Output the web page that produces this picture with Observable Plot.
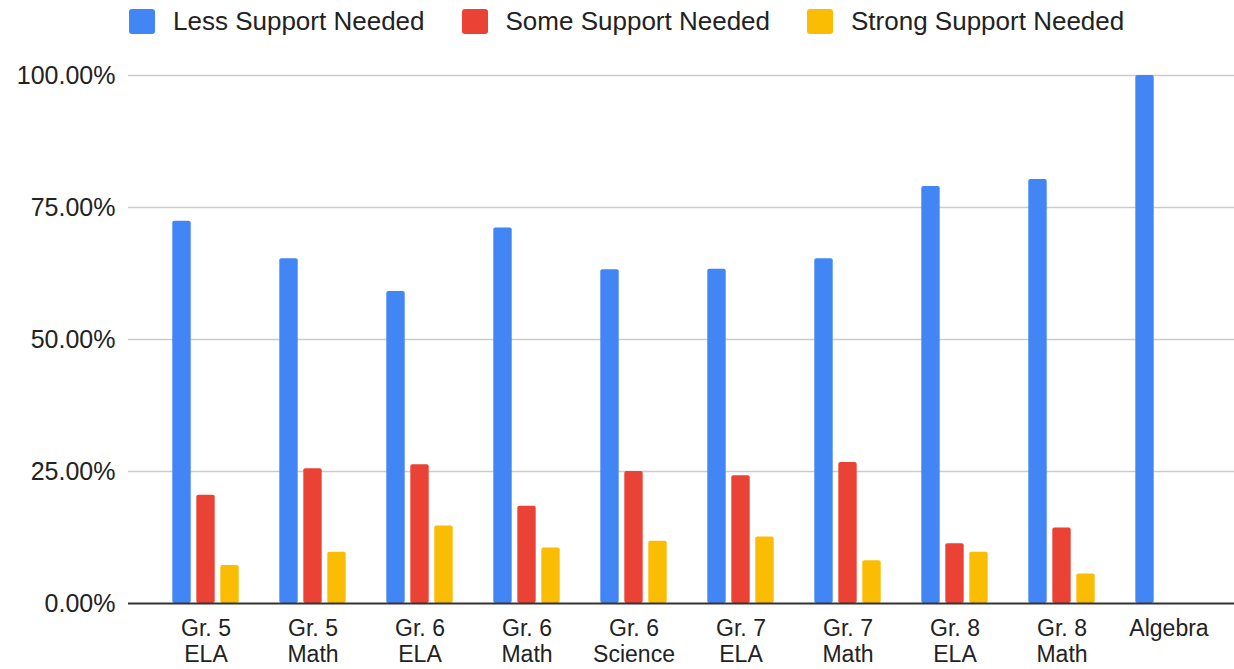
<!DOCTYPE html>
<html>
<head>
<meta charset="utf-8">
<script src="https://cdn.jsdelivr.net/npm/d3@7"></script>
<script src="https://cdn.jsdelivr.net/npm/@observablehq/plot@0.6"></script>
<style>
  html, body { margin: 0; padding: 0; background: #fff; }
  body { width: 1234px; height: 669px; overflow: hidden; font-family: "Liberation Sans", Arial, sans-serif; }
  #legend { display: flex; align-items: center; height: 42px; padding-left: 129px; box-sizing: border-box; }
  .item { display: flex; align-items: center; margin-right: 37px; }
  .sw { width: 26px; height: 25px; border-radius: 3px; margin-right: 18px; }
  .lab { font-size: 26px; color: #222; }
  svg { display: block; }
</style>
</head>
<body>
<div id="legend"></div>
<div id="chart"></div>
<script>
const categories = ["Gr. 5\nELA", "Gr. 5\nMath", "Gr. 6\nELA", "Gr. 6\nMath", "Gr. 6\nScience", "Gr. 7\nELA", "Gr. 7\nMath", "Gr. 8\nELA", "Gr. 8\nMath", "Algebra"];
const seriesNames = ["Less Support Needed", "Some Support Needed", "Strong Support Needed"];
const lessSupport = [72.4, 65.3, 59.1, 71.1, 63.2, 63.3, 65.3, 79.0, 80.3, 100];
const someSupport = [20.5, 25.5, 26.3, 18.4, 25.0, 24.2, 26.7, 11.3, 14.3, null];
const strongSupport = [7.2, 9.7, 14.7, 10.5, 11.8, 12.6, 8.1, 9.7, 5.6, null];
const yTicks = [0, 25, 50, 75, 100];
const colors = ["#4285F4", "#EA4335", "#FBBC04"];

const seriesValues = [lessSupport, someSupport, strongSupport];
const data = [];
seriesValues.forEach((vals, s) => {
  vals.forEach((v, i) => {
    if (v != null) data.push({category: categories[i], series: seriesNames[s], value: v});
  });
});

// legend
const legend = document.getElementById("legend");
seriesNames.forEach((name, i) => {
  const it = document.createElement("div");
  it.className = "item";
  it.innerHTML = `<div class="sw" style="background:${colors[i]}"></div><div class="lab">${name}</div>`;
  legend.appendChild(it);
});

const offsets = [-24, 0, 24];

const barMarks = seriesNames.map((name, s) =>
  Plot.barY(data.filter(d => d.series === name), {
    x: "category",
    y: "value",
    fill: colors[s],
    dx: offsets[s],
    rx: 2,
    insetLeft: 44.3,
    insetRight: 44.3
  })
);

const chart = Plot.plot({
  width: 1234,
  height: 627,
  marginLeft: 128,
  marginRight: 0,
  marginTop: 33,
  marginBottom: 66,
  style: {fontFamily: "'Liberation Sans', Arial, sans-serif", fontSize: "25px", color: "#222", background: "#fff"},
  x: {domain: categories, paddingInner: 0, paddingOuter: 0.1413, align: 0.68, label: null},
  y: {domain: [0, 100], label: null},
  marks: [
    Plot.ruleY(yTicks.filter(t => t > 0), {stroke: "#cccccc", strokeWidth: 1.5}),
    ...barMarks,
    Plot.ruleY([0], {stroke: "#333333", strokeWidth: 2}),
    Plot.axisY({ticks: yTicks, tickSize: 0, tickPadding: 13, tickFormat: d => d.toFixed(2) + "%", label: null, fontSize: 25}),
    Plot.axisX({tickSize: 0, tickPadding: 14, label: null, fontSize: 23, lineHeight: 1.12})
  ]
});
document.getElementById("chart").appendChild(chart);
</script>
</body>
</html>
